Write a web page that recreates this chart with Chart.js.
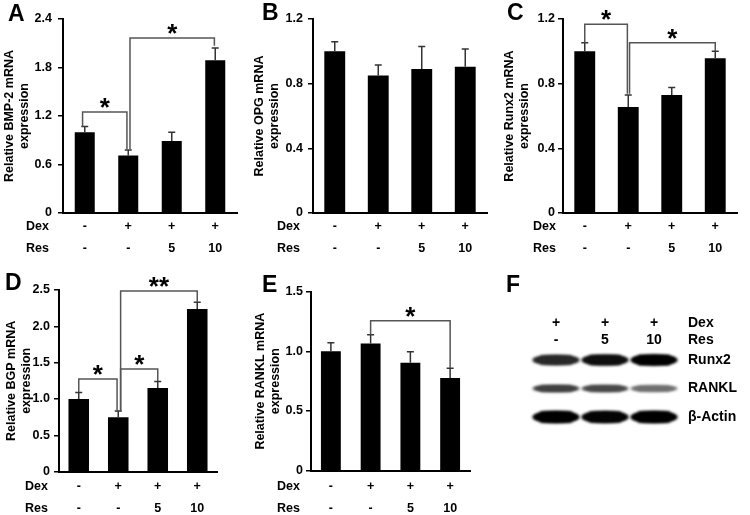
<!DOCTYPE html>
<html>
<head>
<meta charset="utf-8">
<script src="https://cdn.jsdelivr.net/npm/chart.js@4.4.0/dist/chart.umd.min.js"></script>
<style>
  body { margin: 0; background: #fff; }
  #wrap { position: relative; width: 750px; height: 515px; overflow: hidden; }
  canvas { position: absolute; }
</style>
</head>
<body>
<div id="wrap">
  <canvas id="chartA" width="250" height="260" style="left:0;top:0"></canvas>
  <canvas id="chartB" width="250" height="260" style="left:250px;top:0"></canvas>
  <canvas id="chartC" width="250" height="260" style="left:500px;top:0"></canvas>
  <canvas id="chartD" width="250" height="255" style="left:0;top:260px"></canvas>
  <canvas id="chartE" width="250" height="255" style="left:250px;top:260px"></canvas>
  <canvas id="chartF" width="250" height="255" style="left:500px;top:260px"></canvas>
</div>
<script>
// treatment rows under every bar chart
var dexRow = ['-', '+', '+', '+'];
var resRow = ['-', '-', '5', '10'];

// A - BMP-2
var bmp2Mean = [1.0, 0.71, 0.89, 1.89];
var bmp2Err = [0.07, 0.07, 0.11, 0.15];
var bmp2Ticks = [0, 0.6, 1.2, 1.8, 2.4];
var bmp2Sig = [
  { from: -0.05, to: 0.97, y: 1.25, yFrom: 1.07, yTo: 0.79, text: '*' },
  { from: 1.04, to: 2.98, y: 2.165, yFrom: 0.79, yTo: 2.07, text: '*' }
];

// B - OPG
var opgMean = [1.0, 0.85, 0.89, 0.905];
var opgErr = [0.06, 0.065, 0.14, 0.11];
var opgTicks = [0, 0.4, 0.8, 1.2];
var opgSig = [];

// C - Runx2
var runx2Mean = [1.0, 0.655, 0.73, 0.957];
var runx2Err = [0.053, 0.075, 0.047, 0.043];
var runx2Ticks = [0, 0.4, 0.8, 1.2];
var runx2Sig = [
  { from: 0, to: 0.98, y: 1.167, yFrom: 1.053, yTo: 0.738, text: '*' },
  { from: 1.03, to: 3.0, y: 1.053, yFrom: 0.738, yTo: 1.0, text: '*' }
];

// D - BGP
var bgpMean = [1.0, 0.75, 1.15, 2.24];
var bgpErr = [0.09, 0.085, 0.09, 0.09];
var bgpTicks = [0, 0.5, 1.0, 1.5, 2.0, 2.5];
var bgpSig = [
  { from: 0, to: 0.97, y: 1.275, yFrom: 1.097, yTo: 0.835, text: '*' },
  { from: 1.06, to: 2.0, y: 1.413, yFrom: 0.835, yTo: 1.248, text: '*' },
  { from: 1.06, to: 3.0, y: 2.486, yFrom: 0.835, yTo: 2.335, text: '**' }
];

// E - RANKL
var ranklMean = [1.0, 1.065, 0.905, 0.777];
var ranklErr = [0.073, 0.075, 0.092, 0.081];
var ranklTicks = [0, 0.5, 1.0, 1.5];
var ranklSig = [
  { from: 1, to: 3, y: 1.257, yFrom: 1.14, yTo: 0.861, text: '*' }
];

// F - western blot (relative band darkness 0..1)
var blotLanesDex = ['+', '+', '+'];
var blotLanesRes = ['-', '5', '10'];
var blotProteins = ['Runx2', 'RANKL', '\u03B2-Actin'];
var blotRunx2 = [0.8, 0.93, 1.0];
var blotRankl = [0.68, 0.64, 0.45];
var blotActin = [1.0, 0.98, 1.0];

var FONT = "'Liberation Sans', Arial, sans-serif";
Chart.defaults.font.family = FONT;
Chart.defaults.color = '#000';

function makePanel(id, cfg) {
  var labels = dexRow.map(function(d, i) { return [d, resRow[i]]; });

  var extras = {
    id: 'panelExtras',
    afterDatasetsDraw: function(chart) {
      var ctx = chart.ctx;
      var xs = chart.scales.x, ys = chart.scales.y;
      var bars = chart.getDatasetMeta(0).data;
      ctx.save();
      // error bars (upper only)
      ctx.strokeStyle = '#333';
      ctx.lineWidth = 1.5;
      cfg.err.forEach(function(e, i) {
        var px = bars[i].x;
        var y0 = ys.getPixelForValue(cfg.mean[i]);
        var y1 = ys.getPixelForValue(cfg.mean[i] + e);
        ctx.beginPath();
        ctx.moveTo(px, y0);
        ctx.lineTo(px, y1);
        ctx.moveTo(px - 3.5, y1);
        ctx.lineTo(px + 3.5, y1);
        ctx.stroke();
      });
      // significance brackets
      ctx.strokeStyle = '#555';
      ctx.lineWidth = 1.5;
      ctx.fillStyle = '#000';
      ctx.font = 'bold 26px ' + FONT;
      ctx.textAlign = 'center';
      ctx.textBaseline = 'alphabetic';
      cfg.sig.forEach(function(s) {
        var xa = xs.getPixelForValue(s.from);
        var xb = xs.getPixelForValue(s.to);
        var yl = ys.getPixelForValue(s.y);
        ctx.beginPath();
        ctx.moveTo(xa, ys.getPixelForValue(s.yFrom));
        ctx.lineTo(xa, yl);
        ctx.lineTo(xb, yl);
        ctx.lineTo(xb, ys.getPixelForValue(s.yTo));
        ctx.stroke();
        ctx.fillText(s.text, (xa + xb) / 2, yl + 4);
      });
      ctx.restore();
    },
    afterDraw: function(chart) {
      var ctx = chart.ctx;
      var xs = chart.scales.x;
      ctx.save();
      ctx.fillStyle = '#000';
      ctx.font = 'bold 23px ' + FONT;
      ctx.textAlign = 'left';
      ctx.textBaseline = 'alphabetic';
      ctx.fillText(cfg.letter, cfg.letterX, cfg.letterY);
      ctx.font = 'bold 12.5px ' + FONT;
      ctx.textBaseline = 'middle';
      var r1 = xs.top + cfg.tickPad + cfg.rowH / 2;
      ctx.fillText('Dex', cfg.dexX, r1);
      ctx.fillText('Res', cfg.dexX, r1 + cfg.rowH);
      ctx.restore();
    }
  };

  return new Chart(document.getElementById(id), {
    type: 'bar',
    data: {
      labels: labels,
      datasets: [{
        data: cfg.mean,
        backgroundColor: '#000',
        barPercentage: cfg.barPct,
        categoryPercentage: 1
      }]
    },
    options: {
      responsive: false,
      animation: false,
      layout: { padding: { left: 0, top: cfg.top, right: cfg.right, bottom: 0 } },
      plugins: { legend: { display: false }, tooltip: { enabled: false } },
      scales: {
        x: {
          grid: { display: false, drawTicks: false },
          border: { display: true, color: '#000', width: 2 },
          ticks: {
            color: '#000',
            padding: cfg.tickPad,
            maxRotation: 0,
            autoSkip: false,
            font: { size: 12.5, weight: 'bold', lineHeight: cfg.rowH + 'px' }
          },
          afterFit: function(s) { s.height = cfg.xH; }
        },
        y: {
          min: 0,
          max: cfg.ticks[cfg.ticks.length - 1],
          afterBuildTicks: function(s) {
            s.ticks = cfg.ticks.map(function(v) { return { value: v }; });
          },
          grid: { drawOnChartArea: false, drawTicks: true, tickLength: 5, color: '#000', lineWidth: 1.5 },
          border: { color: '#000', width: 2 },
          ticks: {
            color: '#000',
            padding: cfg.yPad,
            font: { size: 12.5, weight: 'bold' },
            callback: function(v) { return v === 0 ? '0' : v.toFixed(1); }
          },
          title: {
            display: true,
            text: [cfg.title, 'expression'],
            color: '#000',
            font: { size: 12.5, weight: 'bold', lineHeight: '14.5px' },
            padding: { top: cfg.titlePad, bottom: 0 }
          },
          afterFit: function(s) { s.width = cfg.left; }
        }
      }
    },
    plugins: [extras]
  });
}

makePanel('chartA', {
  letter: 'A', letterX: 8, letterY: 21,
  title: 'Relative BMP-2 mRNA',
  mean: bmp2Mean, err: bmp2Err, ticks: bmp2Ticks, sig: bmp2Sig,
  left: 63, top: 19, right: 13, xH: 47, tickPad: 3, rowH: 22, dexX: 26,
  yPad: 6, titlePad: 2.75, barPct: 0.46
});
makePanel('chartB', {
  letter: 'B', letterX: 12, letterY: 20,
  title: 'Relative OPG mRNA',
  mean: opgMean, err: opgErr, ticks: opgTicks, sig: opgSig,
  left: 63, top: 19, right: 13, xH: 47, tickPad: 3, rowH: 22, dexX: 27,
  yPad: 5, titlePad: 2.75, barPct: 0.48
});
makePanel('chartC', {
  letter: 'C', letterX: 7, letterY: 20,
  title: 'Relative Runx2 mRNA',
  mean: runx2Mean, err: runx2Err, ticks: runx2Ticks, sig: runx2Sig,
  left: 63, top: 19, right: 13, xH: 47, tickPad: 3, rowH: 22, dexX: 33,
  yPad: 3, titlePad: 2.75, barPct: 0.48
});
makePanel('chartD', {
  letter: 'D', letterX: 5, letterY: 30,
  title: 'Relative BGP mRNA',
  mean: bgpMean, err: bgpErr, ticks: bgpTicks, sig: bgpSig,
  left: 59, top: 30, right: 33, xH: 43.3, tickPad: 4.3, rowH: 22, dexX: 25,
  yPad: 4, titlePad: 4.75, barPct: 0.52
});
makePanel('chartE', {
  letter: 'E', letterX: 12, letterY: 32,
  title: 'Relative RANKL mRNA',
  mean: ranklMean, err: ranklErr, ticks: ranklTicks, sig: ranklSig,
  left: 61, top: 31.7, right: 30, xH: 44.3, tickPad: 5.5, rowH: 21.5, dexX: 27,
  yPad: 3, titlePad: 3.75, barPct: 0.5
});

// F - blot drawn on category scales (lanes x proteins)
var blotBands = [blotRunx2, blotRankl, blotActin];
var bandHeight = [11, 8, 12];

var blotPlugin = {
  id: 'blot',
  afterDraw: function(chart) {
    var ctx = chart.ctx;
    var xs = chart.scales.x, ys = chart.scales.y;
    var laneW = xs.getPixelForValue(1) - xs.getPixelForValue(0);
    ctx.save();
    blotBands.forEach(function(row, r) {
      var cy = ys.getPixelForValue(r);
      row.forEach(function(v, l) {
        var cx = xs.getPixelForValue(l);
        var g = Math.round(200 * (1 - v));
        var h = bandHeight[r] * (0.55 + 0.45 * v);
        var w = laneW * 0.97;
        ctx.filter = 'blur(1.6px)';
        ctx.fillStyle = 'rgb(' + g + ',' + g + ',' + g + ')';
        ctx.beginPath();
        ctx.ellipse(cx, cy, w / 2, h / 2, 0, 0, Math.PI * 2);
        ctx.fill();
        ctx.beginPath();
        ctx.ellipse(cx, cy, w / 2 - 2, h / 2 * 0.9, 0, 0, Math.PI * 2);
        ctx.rect(cx - w / 2 + 8, cy - h / 2 * 0.9, w - 16, h * 0.9);
        ctx.fill();
      });
    });
    ctx.filter = 'none';
    ctx.fillStyle = '#000';
    ctx.font = 'bold 23px ' + FONT;
    ctx.textAlign = 'left';
    ctx.textBaseline = 'alphabetic';
    ctx.fillText('F', 6, 32);
    ctx.font = 'bold 14px ' + FONT;
    ctx.textBaseline = 'middle';
    var labelX = chart.chartArea.right + 9.5;
    ctx.fillText('Dex', labelX, 63);
    ctx.fillText('Res', labelX, 80);
    blotProteins.forEach(function(p, r) {
      ctx.fillText(p, labelX, ys.getPixelForValue(r));
    });
    ctx.textAlign = 'center';
    blotLanesDex.forEach(function(d, l) {
      ctx.fillText(d, xs.getPixelForValue(l), 63);
      ctx.fillText(blotLanesRes[l], xs.getPixelForValue(l), 80);
    });
    ctx.restore();
  }
};

new Chart(document.getElementById('chartF'), {
  type: 'bar',
  data: { labels: blotLanesRes, datasets: [] },
  options: {
    responsive: false,
    animation: false,
    layout: { padding: { left: 31.5, top: 85.75, right: 71.5, bottom: 83.75 } },
    plugins: { legend: { display: false }, tooltip: { enabled: false } },
    scales: {
      x: { type: 'category', offset: true, display: false },
      y: { type: 'category', labels: blotProteins, offset: true, display: false }
    }
  },
  plugins: [blotPlugin]
});
</script>
</body>
</html>
